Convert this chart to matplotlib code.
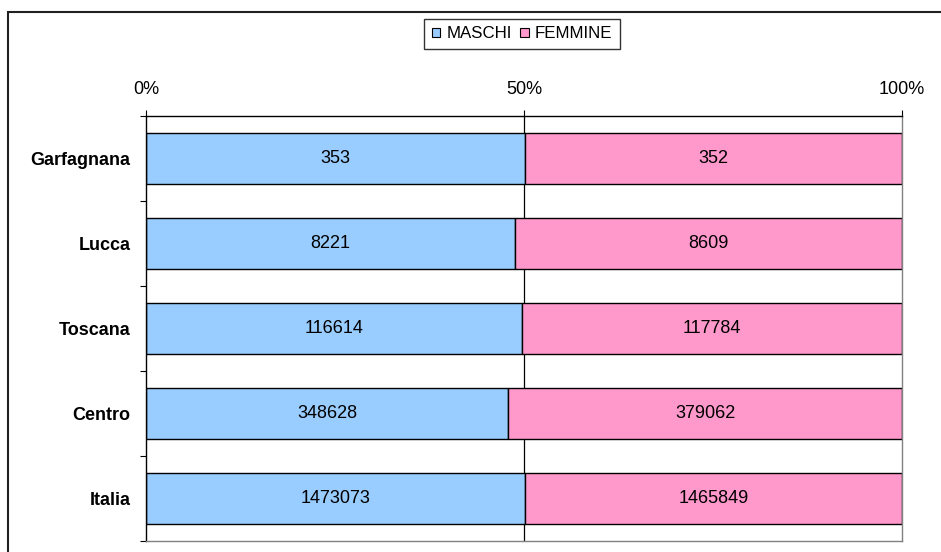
import numpy as np
import matplotlib.pyplot as plt
from matplotlib.patches import Rectangle, Patch

plt.rcParams['font.family'] = ['Liberation Sans', 'DejaVu Sans']

# data
aree = ['Garfagnana', 'Lucca', 'Toscana', 'Centro', 'Italia']
maschi = [353, 8221, 116614, 348628, 1473073]
femmine = [352, 8609, 117784, 379062, 1465849]

col_m = '#99CCFF'
col_f = '#FF99CC'

m = np.array(maschi, dtype=float)
f = np.array(femmine, dtype=float)
tot = m + f
pm = m / tot * 100
pf = f / tot * 100
y = np.arange(len(aree))

W, H = 941, 552
fs = 13
fig = plt.figure(figsize=(W / 100, H / 100), dpi=100)
ax = fig.add_axes([146 / W, 11 / H, (902 - 146) / W, (541 - 116) / H])

# outer chart frame (cut off at right and bottom)
fig.patches.append(Rectangle((8 / W, -0.1), 1.2, 1.1 - 12 / H,
                             transform=fig.transFigure, fill=False,
                             edgecolor='#202020', lw=1.5))

ax.axvline(50, color='black', lw=0.9, zorder=0)

bh = 0.61
ax.barh(y, pm, height=bh, color=col_m, edgecolor='black', lw=1.0, zorder=2)
ax.barh(y, pf, left=pm, height=bh, color=col_f, edgecolor='black', lw=1.0, zorder=2)

for i in range(len(aree)):
    ax.text(pm[i] / 2, y[i], str(maschi[i]), ha='center', va='center',
            fontsize=fs, zorder=3)
    ax.text(pm[i] + pf[i] / 2, y[i], str(femmine[i]), ha='center', va='center',
            fontsize=fs, zorder=3)

ax.set_xlim(0, 100)
ax.set_ylim(len(aree) - 0.5, -0.5)

ax.xaxis.tick_top()
ax.set_xticks([0, 50, 100])
ax.set_xticklabels(['0%', '50%', '100%'], fontsize=fs)
ax.tick_params(axis='x', direction='out', length=4, width=0.8, pad=9,
               color='black')

ax.set_yticks(y)
ax.set_yticklabels(aree, fontsize=fs, fontweight='bold')
ax.set_yticks(np.arange(-0.5, len(aree)), minor=True)
ax.tick_params(axis='y', which='major', length=0, pad=11)
ax.tick_params(axis='y', which='minor', direction='out', length=4, width=0.8)

ax.spines['top'].set_color('black')
ax.spines['left'].set_color('black')
ax.spines['right'].set_color('#808080')
ax.spines['bottom'].set_color('#808080')
for s in ax.spines.values():
    s.set_linewidth(1.0)

handles = [Patch(facecolor=col_m, edgecolor='black', lw=0.8, label='MASCHI'),
           Patch(facecolor=col_f, edgecolor='black', lw=0.8, label='FEMMINE')]
fig.legend(handles=handles, loc='center', bbox_to_anchor=(522 / W, 1 - 34 / H),
           ncol=2, fontsize=12.2, frameon=True, fancybox=False, edgecolor='black',
           handlelength=0.5, handleheight=0.5, handletextpad=0.35,
           columnspacing=0.5, borderpad=0.45, borderaxespad=0)

fig.savefig('out.png', dpi=100)
